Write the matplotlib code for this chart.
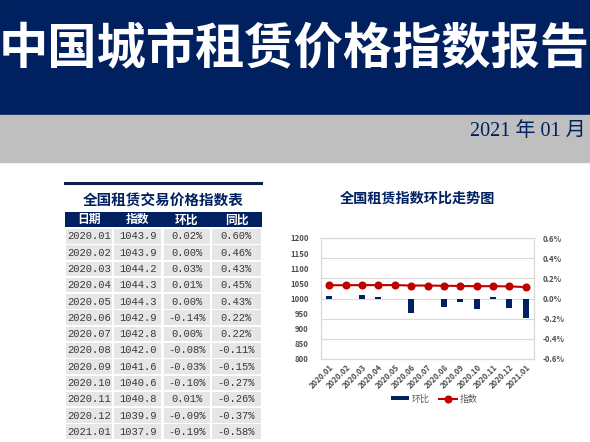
import numpy as np
import matplotlib
matplotlib.use('Agg')
import matplotlib.pyplot as plt
from matplotlib.patches import Rectangle
from matplotlib.lines import Line2D
import matplotlib.ticker as tck

plt.rcParams['font.family'] = ['Noto Sans CJK SC', 'DejaVu Sans']

# ---------------- data ----------------
months = ['2020.01', '2020.02', '2020.03', '2020.04', '2020.05', '2020.06', '2020.07',
          '2020.08', '2020.09', '2020.10', '2020.11', '2020.12', '2021.01']
index_vals = [1043.9, 1043.9, 1044.2, 1044.3, 1044.3, 1042.9, 1042.8,
              1042.0, 1041.6, 1040.6, 1040.8, 1039.9, 1037.9]
mom = [0.02, 0.00, 0.03, 0.01, 0.00, -0.14, 0.00, -0.08, -0.03, -0.10, 0.01, -0.09, -0.19]
yoy = [0.60, 0.46, 0.43, 0.45, 0.43, 0.22, 0.22, -0.11, -0.15, -0.27, -0.26, -0.37, -0.58]
headers = ['日期', '指数', '环比', '同比']

title = '中国城市租赁价格指数报告'
date_str = '2021 年 01 月'
table_title = '全国租赁交易价格指数表'
chart_title = '全国租赁指数环比走势图'

NAVY = '#002060'
RED = '#c00000'
W, H = 590, 442

fig = plt.figure(figsize=(W / 100, H / 100), dpi=100)

def fx(px):
    return px / W

def fy(py):
    return 1 - py / H

# ---------------- header bands ----------------
fig.patches.append(Rectangle((0, fy(115)), 1, 115 / H, transform=fig.transFigure,
                             color=NAVY, zorder=0))
fig.patches.append(Rectangle((0, fy(162)), 1, 47 / H, transform=fig.transFigure,
                             color='#bfbfbf', zorder=0))
fig.text(fx(294), fy(50), title, color='white', fontsize=35.5, fontweight='bold',
         ha='center', va='center')
fig.text(fx(586), fy(131), date_str, color=NAVY, fontsize=14.5,
         family=['Liberation Serif', 'Noto Sans CJK SC'], ha='right', va='center')

# ---------------- table ----------------
fig.add_artist(Line2D([fx(65), fx(261)], [fy(183), fy(183)], color='#0d1e4a', lw=2.2))
fig.text(fx(163), fy(201), table_title, color=NAVY, fontsize=10.5, fontweight='bold',
         ha='center', va='center')

tab = fig.add_axes([fx(65), fy(440), fx(262) - fx(65), (440 - 212) / H])
tab.set_xlim(0, 1)
tab.set_ylim(len(months) + 1, 0)
tab.axis('off')
col_edges = [0, 0.245, 0.495, 0.74, 1.0]
gap = 0.006

# header row
tab.add_patch(Rectangle((0, 0), 1, 0.92, color=NAVY, lw=0))
for j, h in enumerate(headers):
    cx = (col_edges[j] + col_edges[j + 1]) / 2
    tab.text(cx, 0.48, h, color='white', fontsize=8.5, fontweight='bold',
             ha='center', va='center')

rows = []
for i in range(len(months)):
    rows.append([months[i], '%.1f' % index_vals[i], '%.2f%%' % mom[i], '%.2f%%' % yoy[i]])

for i, row in enumerate(rows):
    y0 = i + 1
    for j, txt in enumerate(row):
        x0 = col_edges[j]
        tab.add_patch(Rectangle((x0 + gap, y0 + 0.04), col_edges[j + 1] - x0 - 2 * gap, 0.9,
                                color='#e6e6e6', lw=0))
        cx = (col_edges[j] + col_edges[j + 1]) / 2
        tab.text(cx, y0 + 0.5, txt, color='#3a3a3a', fontsize=7.6,
                 family=['Liberation Mono'], ha='center', va='center')

# ---------------- chart ----------------
fig.text(fx(418), fy(199), chart_title, color=NAVY, fontsize=10.2, fontweight='bold',
         ha='center', va='center')

ax = fig.add_axes([fx(321), fy(359), fx(534) - fx(321), (359 - 238) / H])
x = np.arange(len(months))
ax.bar(x, mom, width=0.36, color=NAVY, zorder=2, label='环比')
ax.set_ylim(-0.6, 0.6)
ax.set_xlim(-0.5, len(months) - 0.5)
ax.yaxis.set_major_locator(tck.MultipleLocator(0.2))
ax.yaxis.set_major_formatter(tck.FuncFormatter(lambda v, p: '%.1f%%' % v))
ax.grid(axis='y', color='#d9d9d9', lw=0.8)
ax.set_axisbelow(True)
ax.set_xticks(x)
ax.set_xticklabels(months, rotation=45, ha='right', va='top', rotation_mode='anchor')

ax2 = ax.twinx()
ax2.plot(x, index_vals, color=RED, lw=1.5, marker='o', markersize=4.8, label='指数')
ax2.set_ylim(800, 1200)
ax2.yaxis.set_major_locator(tck.MultipleLocator(50))
# swap sides: index on the left, percent on the right
ax2.yaxis.tick_left()
ax.yaxis.tick_right()

for a in (ax, ax2):
    for s in a.spines.values():
        s.set_color('#d9d9d9')
        s.set_linewidth(0.8)
    a.tick_params(length=0, labelsize=5.6, labelcolor='#505050')
    for lab in a.get_xticklabels() + a.get_yticklabels():
        lab.set_fontweight('bold')
ax.tick_params(axis='y', pad=6)
ax2.tick_params(axis='y', pad=9)
ax.tick_params(axis='x', pad=3)

h1, l1 = ax.get_legend_handles_labels()
h2, l2 = ax2.get_legend_handles_labels()
fig.legend(h1 + h2, l1 + l2, loc='center', bbox_to_anchor=(fx(434), fy(399)), ncol=2,
           frameon=False, fontsize=6.5, labelcolor='#595959', handlelength=2.0,
           handleheight=0.3, columnspacing=1.0, handletextpad=0.3)

fig.savefig('out.png', dpi=100)
